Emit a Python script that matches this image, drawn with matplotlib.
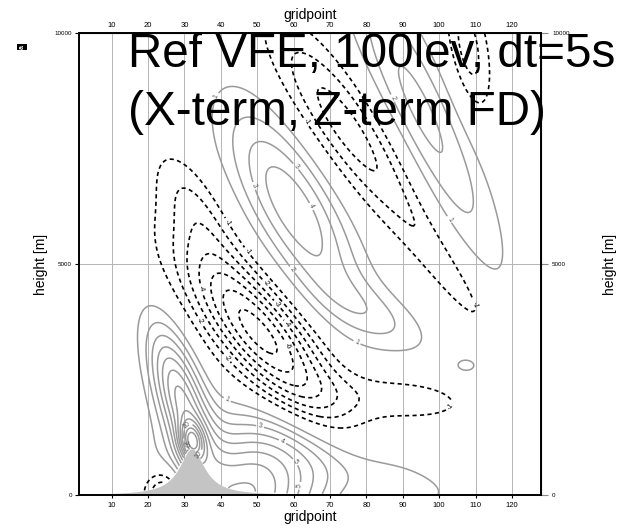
import matplotlib
matplotlib.use("Agg")
import matplotlib.pyplot as plt
import numpy as np

plt.rcParams["font.family"] = ["Liberation Sans", "DejaVu Sans"]

# witch-of-Agnesi hill
HILL_CENTER = 32.0
HILL_HEIGHT = 1000.0
HILL_HALF_WIDTH = 4.2

# wave cells: centre (gridpoint, height in m), peak value,
# extent along / across the cell axis (fraction of the panel) and axis angle in degrees
CELL_X = [32.0, 29.0, 47.0, 78.0, 25.0, 50.5, 33.0, 88.0, 60.0, 82.0, 74.0, 103.0, 95.0, 107.5, 108.0]
CELL_Z = [1150, 2100, 0, 500, 0, 3500, 6200, 2100, 6200, 3900, 8000, 4800, 8300, 2800, 9700]
CELL_AMP = [6.0, 7.0, 8.0, 1.5, -5.0, -7.5, -2.0, -1.6, 4.8, 1.8, -3.5, -1.4, 3.3, 1.4, -2.5]
CELL_ALONG = [0.03, 0.11, 0.10, 0.2, 0.035, 0.16, 0.1, 0.13, 0.17, 0.1, 0.18, 0.15, 0.25, 0.02, 0.1]
CELL_ACROSS = [0.018, 0.035, 0.11, 0.05, 0.04, 0.055, 0.04, 0.04, 0.06, 0.04, 0.05, 0.03, 0.05, 0.013, 0.03]
CELL_ANGLE = [100, 108, 120, -15, 0, -50, 120, -5, -60, -30, -55, -55, -65, 0, -80]

POS_LEVELS = list(range(1, 16))
NEG_LEVELS = list(range(-8, 0))
X_TICKS = [10, 20, 30, 40, 50, 60, 70, 80, 90, 100, 110, 120]
Y_TICKS = [0, 5000, 10000]

# where the contour labels sit (gridpoint, height in m)
POS_LABEL_AT = [(30.7, 1515), (30.2, 1100), (34, 866), (60.5, 216), (60.5, 714), (56.9, 1150),
                (51, 1560), (42.8, 2230), (78, 3400), (60.2, 4910), (63, 6170), (60.5, 7100),
                (48.3, 6670), (34, 8830), (100.6, 5850), (88, 8620)]
NEG_LABEL_AT = [(104, 1840), (109.7, 4110), (43, 5950), (47.8, 5300), (52.7, 4610), (56, 4160),
                (58, 3680), (58, 3200), (34.9, 4480), (34.6, 3790), (41.7, 2970), (63, 8050)]


def build_field(gp, z):
    xi = (gp - 1.0) / 127.0
    eta = z / 10000.0
    field = np.zeros_like(xi)
    for xc, zc, amp, sa, sc, ang in zip(CELL_X, CELL_Z, CELL_AMP, CELL_ALONG, CELL_ACROSS, CELL_ANGLE):
        t = np.deg2rad(ang)
        dx = xi - (xc - 1.0) / 127.0
        dz = eta - zc / 10000.0
        p = dx * np.cos(t) + dz * np.sin(t)
        q = -dx * np.sin(t) + dz * np.cos(t)
        field += amp * np.exp(-0.5 * ((p / sa) ** 2 + (q / sc) ** 2))
    return field


def main():
    gp = np.linspace(1, 128, 509)
    z = np.linspace(0, 10000, 401)
    GP, Z = np.meshgrid(gp, z)
    hill = HILL_HEIGHT * HILL_HALF_WIDTH**2 / ((gp - HILL_CENTER) ** 2 + HILL_HALF_WIDTH**2)
    field = np.ma.masked_where(Z < hill[None, :], build_field(GP, Z))

    fig = plt.figure(figsize=(6.33, 5.30), dpi=100)
    ax = fig.add_axes([79 / 633, 35 / 530, 462 / 633, 462 / 530])

    for xt in X_TICKS:
        ax.axvline(xt, color="#b4b4b4", lw=0.7, zorder=1)
    ax.axhline(5000, color="#b4b4b4", lw=0.7, zorder=1)

    neg = ax.contour(GP, Z, field, levels=NEG_LEVELS, colors="black",
                     linewidths=1.2, linestyles=[(0, (2.5, 2.0))], zorder=2)
    pos = ax.contour(GP, Z, field, levels=POS_LEVELS, colors="#9a9a9a",
                     linewidths=1.1, linestyles="solid", zorder=2)
    ax.clabel(neg, fmt="%d", fontsize=5, inline=True, inline_spacing=2, manual=NEG_LABEL_AT)
    ax.clabel(pos, fmt="%d", fontsize=5, inline=True, inline_spacing=2, colors="#555555",
              manual=POS_LABEL_AT)

    ax.fill_between(gp, 0, hill, color="#c4c4c4", lw=0, zorder=3)

    ax.set_xlim(1, 128)
    ax.set_ylim(0, 10000)
    ax.set_xticks(X_TICKS)
    ax.set_yticks(Y_TICKS)
    ax.tick_params(axis="x", labelsize=5.5, length=2, pad=3)
    ax.tick_params(axis="y", labelsize=4.5, length=3, pad=2)
    ax.set_xlabel("gridpoint", fontsize=10, labelpad=1)
    ax.set_ylabel("height [m]", fontsize=10, labelpad=5)
    for side in ["left", "bottom", "top", "right"]:
        ax.spines[side].set_linewidth(1.4)
        ax.spines[side].set_zorder(5)

    top = ax.secondary_xaxis("top")
    top.set_xticks(X_TICKS)
    top.tick_params(labelsize=5.5, length=0, pad=3)
    top.set_xlabel("gridpoint", fontsize=10, labelpad=2)

    right = ax.secondary_yaxis("right")
    right.set_yticks(Y_TICKS)
    right.tick_params(labelsize=4.5, length=5, pad=3, color="#888888")
    right.set_ylabel("height [m]", fontsize=10, labelpad=24)

    fig.text(128 / 633, 1 - 67 / 530, "Ref VFE, 100lev, dt=5s", fontsize=34.3, va="baseline", zorder=10)
    fig.text(128 / 633, 1 - 125 / 530, "(X-term, Z-term FD)", fontsize=34.3, va="baseline", zorder=10)
    fig.text(22 / 633, 1 - 47 / 530, "a", fontsize=5, rotation=90, color="white", fontweight="bold",
             ha="center", va="center",
             bbox=dict(boxstyle="square,pad=0.15", fc="black", ec="none"))

    fig.savefig("out.png", dpi=100)
    plt.close(fig)


if __name__ == "__main__":
    main()
